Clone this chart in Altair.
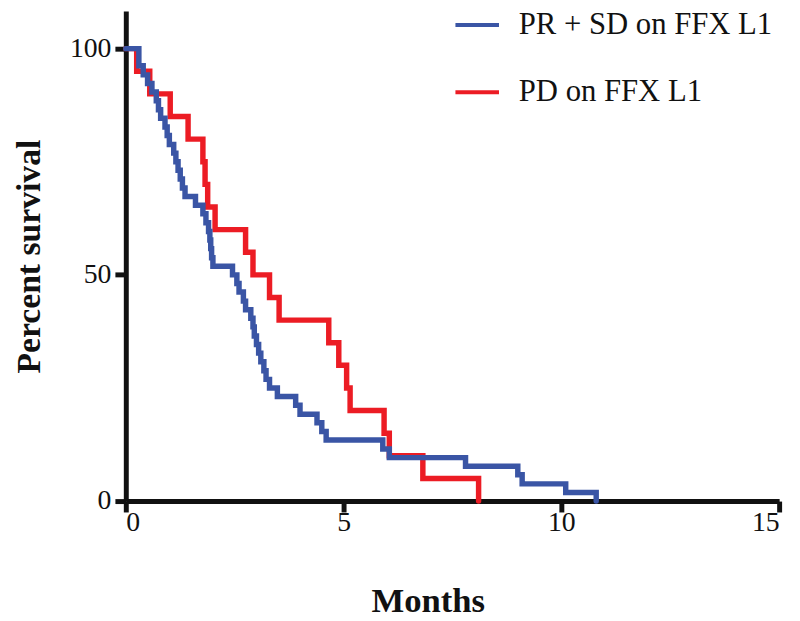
import altair as alt
import pandas as pd

# Kaplan-Meier curves (months, percent survival)
blue_label = "PR + SD on FFX L1"
red_label = "PD on FFX L1"

blue_t = [0, 0.3, 0.4, 0.5, 0.6, 0.7, 0.75, 0.8, 0.9, 0.95, 1.0, 1.1, 1.15, 1.2,
          1.25, 1.3, 1.36, 1.6, 1.77, 1.84, 1.9, 1.93, 1.95, 1.97, 2.0, 2.45,
          2.55, 2.6, 2.7, 2.75, 2.87, 2.92, 2.95, 3.0, 3.05, 3.1, 3.17, 3.22,
          3.3, 3.48, 3.9, 4.0, 4.39, 4.5, 4.6, 5.9, 6.05, 7.8, 9.0, 9.1, 10.1, 10.8]
blue_s = [100, 96.2, 94.2, 92.3, 90.4, 88.5, 86.5, 84.6, 82.7, 80.8, 78.8, 76.9,
          75.0, 73.1, 71.2, 69.2, 67.3, 65.4, 63.5, 61.5, 59.6, 57.7, 55.8, 53.8,
          51.9, 50.0, 48.1, 46.2, 44.2, 42.3, 40.4, 38.5, 36.5, 34.6, 32.7, 30.8,
          28.8, 26.9, 25.0, 23.1, 21.2, 19.2, 17.3, 15.4, 13.5, 11.5, 9.6, 7.7,
          5.8, 3.8, 1.9, 0]

red_t = [0, 0.25, 0.55, 1.02, 1.43, 1.77, 1.82, 1.88, 2.05, 2.75, 2.92, 3.3,
         3.52, 4.66, 4.89, 5.07, 5.15, 5.93, 6.05, 6.82, 8.1]
red_s = [100, 95, 90, 85, 80, 75, 70, 65, 60, 55, 50, 45, 40, 35, 30, 25, 20,
         15, 10, 5, 0]

x_ticks = [0, 5, 10, 15]
y_ticks = [0, 50, 100]

blue_df = pd.DataFrame({"Months": blue_t, "Survival": blue_s, "Group": blue_label})
red_df = pd.DataFrame({"Months": red_t, "Survival": red_s, "Group": red_label})

FONT = "Liberation Serif"

color = alt.Color(
    "Group:N",
    scale=alt.Scale(domain=[blue_label, red_label], range=["#3A55A5", "#EC1C24"]),
    legend=alt.Legend(
        title=None,
        orient="none",
        legendX=331,
        legendY=-10,
        symbolType="stroke",
        symbolSize=1936,
        symbolStrokeWidth=4,
        labelFont=FONT,
        labelFontSize=31,
        labelColor="#111111",
        labelOffset=18,
        rowPadding=29,
        labelLimit=400,
    ),
)

x = alt.X(
    "Months:Q",
    scale=alt.Scale(domain=[0, 15], nice=False),
    axis=alt.Axis(values=x_ticks, title="Months", titlePadding=48, labelPadding=-3,
                  titleX=305, format="d"),
)
y = alt.Y(
    "Survival:Q",
    scale=alt.Scale(domain=[0, 108.3], nice=False),
    axis=alt.Axis(values=y_ticks, title="Percent survival", titlePadding=23,
                  labelPadding=4, format="d", titleFontSize=34),
)

line_kw = dict(interpolate="step-after", strokeWidth=5.5, strokeCap="round",
               strokeJoin="miter", clip=False)

red_line = alt.Chart(red_df).mark_line(**line_kw).encode(x=x, y=y, color=color)
blue_line = alt.Chart(blue_df).mark_line(**line_kw).encode(x=x, y=y, color=color)

chart = (
    alt.layer(red_line, blue_line)
    .properties(
        width=660,
        height=495,
        autosize=alt.AutoSizeParams(type="none"),
        padding={"left": 119, "top": 0, "right": 13, "bottom": 115},
    )
    .configure_view(stroke=None)
    .configure_axis(
        grid=False,
        domainColor="#111111",
        domainWidth=5,
        tickColor="#111111",
        tickWidth=5,
        tickSize=11,
        labelFont=FONT,
        labelFontSize=28,
        labelColor="#111111",
        titleFont=FONT,
        titleFontSize=35,
        titleFontWeight="bold",
        titleColor="#111111",
    )
)

chart.save("out.html", embed_options={"renderer": "svg", "actions": False})
